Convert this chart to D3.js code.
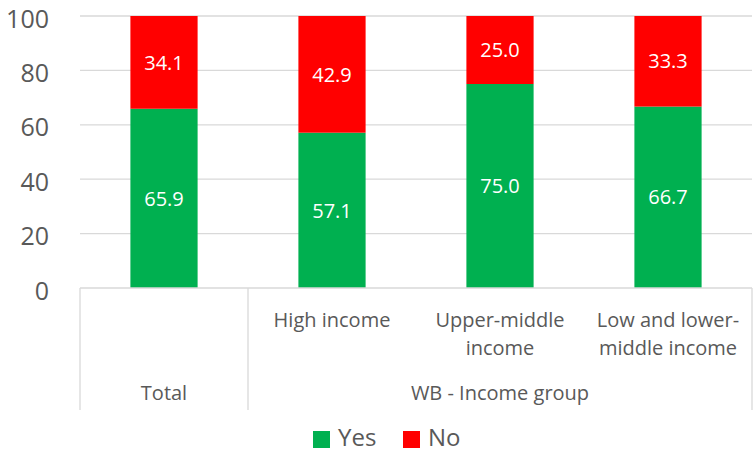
<!DOCTYPE html>
<meta charset="utf-8">
<head>
<title>Yes / No by income group</title>
</head>
<style>
html, body { margin: 0; background: #fff; overflow: hidden; }
text { font-family: "Open Sans", "Noto Sans", sans-serif; }
.grid line { stroke: #d9d9d9; stroke-width: 1.3px; }
.ytick text { fill: #595959; font-size: 25px; }
.cat text { fill: #595959; font-size: 20px; }
.lbl { fill: #fff; font-size: 20px; }
</style>
<body>
<script src="https://cdn.jsdelivr.net/npm/d3@7"></script>
<script>

// data
var categories = ["Total", "High income", "Upper-middle income", "Low and lower-middle income"];
var catLines = [[], ["High income"], ["Upper-middle", "income"], ["Low and lower-", "middle income"]];
var groups = [{name: "Total", from: 0, to: 0}, {name: "WB - Income group", from: 1, to: 3}];
var yesValues = [65.9, 57.1, 75.0, 66.7];
var noValues = [34.1, 42.9, 25.0, 33.3];
var series = ["Yes", "No"];
var seriesColors = ["#00b050", "#ff0000"];
var yTicks = [0, 20, 40, 60, 80, 100];

var width = 753, height = 453;
var svg = d3.select("body").append("svg")
    .attr("width", width)
    .attr("height", height);

var x = d3.scaleBand()
    .domain(categories)
    .range([80, 752])
    .paddingInner(0.6)
    .paddingOuter(0.3);

var y = d3.scaleLinear()
    .domain([0, 100])
    .range([288, 16]);

// gridlines
svg.append("g").attr("class", "grid")
    .selectAll("line")
    .data(yTicks.filter(function(d) { return d > 0; }))
    .enter().append("line")
    .attr("x1", 80).attr("x2", 752)
    .attr("y1", function(d) { return y(d); })
    .attr("y2", function(d) { return y(d); });

// y labels
svg.append("g").attr("class", "ytick")
    .selectAll("text")
    .data(yTicks)
    .enter().append("text")
    .attr("x", 49)
    .attr("y", function(d) { return y(d); })
    .attr("dy", "0.46em")
    .attr("text-anchor", "end")
    .text(function(d) { return d; });

// stacked bars
var rows = categories.map(function(c, i) { return {cat: c, Yes: yesValues[i], No: noValues[i]}; });
var stacked = d3.stack().keys(series)(rows);

var layer = svg.append("g").selectAll("g")
    .data(stacked)
    .enter().append("g")
    .attr("fill", function(d, i) { return seriesColors[i]; });

layer.selectAll("rect")
    .data(function(d) { return d; })
    .enter().append("rect")
    .attr("x", function(d) { return x(d.data.cat); })
    .attr("width", x.bandwidth())
    .attr("y", function(d) { return y(d[1]); })
    .attr("height", function(d) { return y(d[0]) - y(d[1]); });

layer.selectAll("text")
    .data(function(d) { return d; })
    .enter().append("text")
    .attr("class", "lbl")
    .attr("text-anchor", "middle")
    .attr("x", function(d) { return x(d.data.cat) + x.bandwidth() / 2; })
    .attr("y", function(d) { return (y(d[0]) + y(d[1])) / 2; })
    .attr("dy", "0.36em")
    .text(function(d) { return (d[1] - d[0]).toFixed(1); });

// multi-level category axis
var step = x.step();
var left = 80;
var axis = svg.append("g").attr("class", "cat");

axis.append("line")
    .attr("x1", left).attr("x2", 752)
    .attr("y1", 288).attr("y2", 288)
    .attr("stroke", "#d9d9d9").attr("stroke-width", 1.3);

var bounds = [0, 1, 4];
axis.selectAll("line.sep")
    .data(bounds)
    .enter().append("line")
    .attr("class", "sep")
    .attr("x1", function(d) { return left + d * step; })
    .attr("x2", function(d) { return left + d * step; })
    .attr("y1", 288).attr("y2", 410)
    .attr("stroke", "#d9d9d9").attr("stroke-width", 1.3);

axis.selectAll("text.l1")
    .data(categories)
    .enter().append("text")
    .attr("class", "l1")
    .attr("text-anchor", "middle")
    .attr("x", function(d) { return x(d) + x.bandwidth() / 2; })
    .attr("y", 320)
    .each(function(d, i) {
        var t = d3.select(this);
        catLines[i].forEach(function(s, j) {
            t.append("tspan")
                .attr("x", x(d) + x.bandwidth() / 2)
                .attr("dy", j === 0 ? "0.36em" : "1.4em")
                .text(s);
        });
    });

axis.selectAll("text.l2")
    .data(groups)
    .enter().append("text")
    .attr("class", "l2")
    .attr("text-anchor", "middle")
    .attr("x", function(d) { return left + (d.from + d.to + 1) / 2 * step; })
    .attr("y", 393)
    .attr("dy", "0.36em")
    .text(function(d) { return d.name; });

// legend
var legend = svg.append("g");
var legX = [313, 403];
series.forEach(function(s, i) {
    legend.append("rect")
        .attr("x", legX[i]).attr("y", 431)
        .attr("width", 17).attr("height", 17)
        .attr("fill", seriesColors[i]);
    legend.append("text")
        .attr("x", legX[i] + 25).attr("y", 437)
        .attr("dy", "0.36em")
        .attr("fill", "#595959")
        .style("font-size", "24px")
        .text(s);
});

</script>
</body>
